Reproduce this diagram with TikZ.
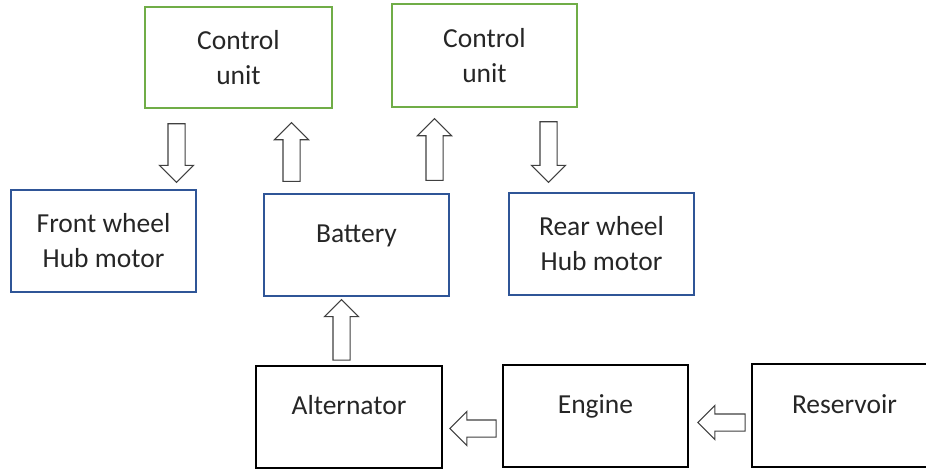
\documentclass[tikz,border=0pt]{standalone}
\usepackage{fontspec}
\setmainfont{Carlito}
\usetikzlibrary{shapes.arrows,calc}

\definecolor{boxgreen}{HTML}{70AD47}
\definecolor{boxblue}{HTML}{2F5597}

\begin{document}
\begin{tikzpicture}[
    x=1pt, y=-1pt,
    box/.style={rectangle, align=center, inner sep=0pt, minimum width=185pt, minimum height=102pt, text=black!85, font=\fontsize{27.5}{35}\selectfont},
    box1/.style={box, draw=boxgreen, line width=2.4pt},
    box2/.style={box, draw=boxblue, line width=2.2pt},
    box3/.style={box, draw=black, line width=2.8pt},
    hightext/.style={text height=18pt, text depth=23pt},
    fatnode/.style={single arrow, draw=black!75, fill=white, line width=1.1pt, inner xsep=0pt, inner ysep=8pt, single arrow head extend=8.5pt},
    fat/.style={to path={let \p1=(\tikztostart), \p2=(\tikztotarget), \n1={veclen(\x2-\x1,\y2-\y1)}, \n2={atan2(\y2-\y1,\x2-\x1)} in node[fatnode, minimum height=\n1, rotate=\n2, anchor=tail] at (\p1) {}}}
]
    \path[use as bounding box, clip] (0,0) rectangle (926,471);

    % top row
    \node [box1, minimum width=187pt, minimum height=101pt] (cu1) at (238.5,57.5) {Control\\unit};
    \node [box1, minimum height=103pt] (cu2) at (484.5,55.5) {Control\\unit};

    % middle row
    \node [box2] (fw) at (103.5,241) {Front wheel\\Hub motor};
    \node [box2, hightext] (bat) at (356.5,245) {Battery};
    \node [box2] (rear) at (601.5,244) {Rear wheel\\Hub motor};

    % bottom row
    \node [box3, hightext, minimum width=186pt] (alt) at (349,417) {Alternator};
    \node [box3, hightext] (eng) at (595.5,416) {Engine};
    \node [box3, hightext, minimum height=103pt] (res) at (844.5,415.5) {Reservoir};

    \path [fat] ([xshift=-62pt,yshift=-14pt]cu1.south) to ([xshift=73pt,yshift=7pt]fw.north);
    \path [fat] ([xshift=-65pt,yshift=11pt]bat.north) to ([xshift=53pt,yshift=-14pt]cu1.south);
    \path [fat] ([xshift=78pt,yshift=12pt]bat.north) to ([xshift=-50pt,yshift=-11pt]cu2.south);
    \path [fat] ([xshift=64pt,yshift=-13pt]cu2.south) to ([xshift=-53pt,yshift=10pt]rear.north);
    \path [fat] ([xshift=-7.5pt,yshift=4pt]alt.north) to ([xshift=-15pt,yshift=-3pt]bat.south);
    \path [fat] ([xshift=-5pt,yshift=-12.5pt]eng.west) to ([xshift=7pt,yshift=-11.5pt]alt.east);
    \path [fat] ([xshift=-5pt,yshift=-7pt]res.west) to ([xshift=9pt,yshift=-6.5pt]eng.east);
\end{tikzpicture}
\end{document}
